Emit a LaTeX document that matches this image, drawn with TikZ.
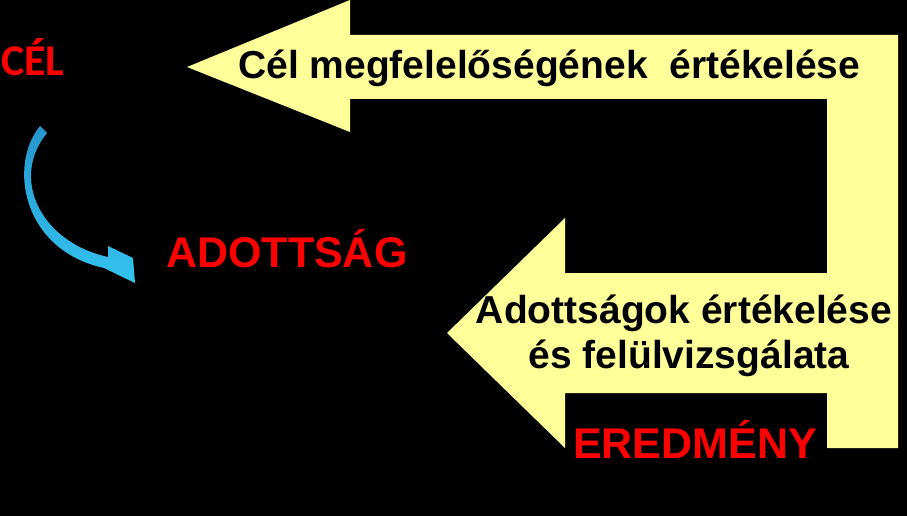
\documentclass[tikz,border=0pt]{standalone}
\usepackage{fontspec}
\setmainfont{Liberation Sans}
\newfontfamily\calibrifont{Carlito}
\definecolor{lightyellow}{HTML}{FFFF99}
\definecolor{curvedark}{RGB}{38,150,205}
\definecolor{curvelight}{RGB}{52,195,240}
\begin{document}
\begin{tikzpicture}[x=1pt,y=-1pt,
    redlabel/.style={text=red,inner sep=0pt,anchor=base west,
      font=\bfseries\fontsize{43}{48}\selectfont},
    blacklabel/.style={text=black,inner sep=0pt,anchor=base,
      font=\bfseries\fontsize{39}{45}\selectfont}]
	\fill[black] (0,0) rectangle (907,516);
	\useasboundingbox (0,0) rectangle (907,516);
	% yellow feedback arrows
	\fill[lightyellow] (187,67) -- (350,0) -- (350,35) -- (898,35) -- (898,448)
		-- (827,448) -- (827,393) -- (565,393) -- (565,448) -- (447,333)
		-- (565,218) -- (565,273) -- (827,273) -- (827,99) -- (350,99)
		-- (350,132) -- cycle;
	
	% blue curved arrow
	\shade[top color=curvedark, bottom color=curvelight] (40,126)
		.. controls (8,165) and (22,250) .. (104,268) -- (135,283)
		-- (133,258) -- (108,246) -- (108,257)
		.. controls (40,242) and (10,178) .. (47,133) -- cycle;
	
	\node[redlabel,font=\calibrifont\bfseries\fontsize{44}{48}\selectfont] (cel) at (1,76) {CÉL};
	\node[redlabel] (adottsag) at (166,267) {ADOTTSÁG};
	\node[redlabel] (eredmeny) at (573,458) {EREDMÉNY};
	
	\node[blacklabel,anchor=base west] (celtext) at (238,79) {Cél megfelelőségének\ \ értékelése};
	\node[blacklabel] (adottext) at (684,323) {Adottságok értékelése};
	\node[blacklabel] (felultext) at (689,368) {és felülvizsgálata};
	
\end{tikzpicture}
\end{document}
